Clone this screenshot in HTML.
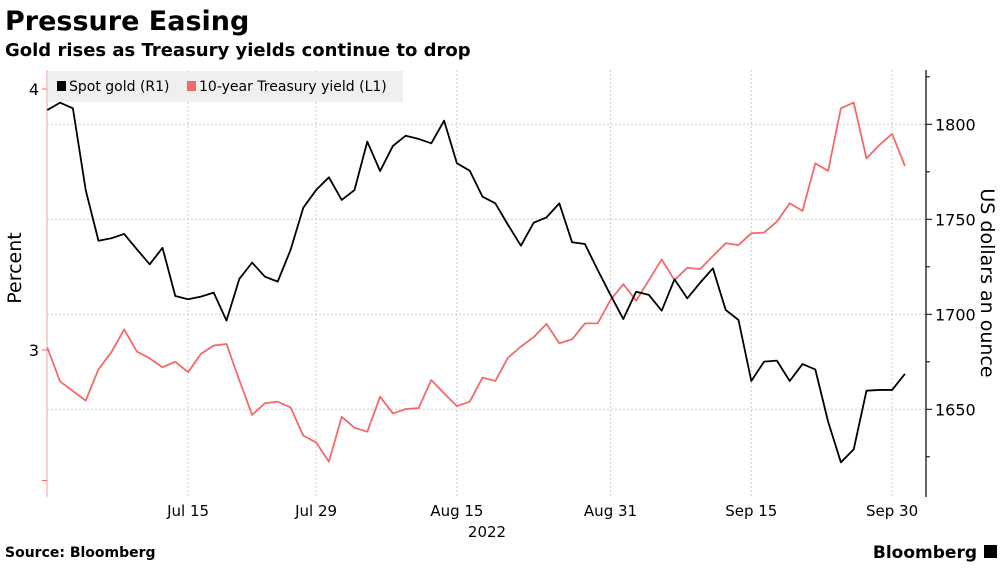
<!DOCTYPE html>
<html><head><meta charset="utf-8"><style>
body{margin:0;background:#fff;width:1003px;height:564px;overflow:hidden;font-family:"Liberation Sans",sans-serif}
</style></head><body>
<svg id="chart" width="1003" height="564" xmlns="http://www.w3.org/2000/svg" font-family="DejaVu Sans, Liberation Sans, sans-serif">
<text x="5" y="30" font-size="27" font-weight="bold" fill="#000">Pressure Easing</text>
<text x="5" y="56" font-size="18" font-weight="bold" fill="#000">Gold rises as Treasury yields continue to drop</text>
<g id="grid"></g>
<g id="axes"></g>
<g id="series"></g>
<g>
<rect x="48" y="71" width="355" height="31" fill="#efefef"/>
<rect x="57" y="81" width="9" height="10" fill="#000"/>
<text x="69" y="91" font-size="14" fill="#000">Spot gold (R1)</text>
<rect x="187" y="81" width="9" height="10" fill="#f46a6a"/>
<text x="199" y="91" font-size="14" fill="#000">10-year Treasury yield (L1)</text>
</g>
<text transform="translate(21,268) rotate(-90)" text-anchor="middle" font-size="19" fill="#000">Percent</text>
<text transform="translate(981,283) rotate(90)" text-anchor="middle" font-size="19" fill="#000">US dollars an ounce</text>
<text x="487" y="537" text-anchor="middle" font-size="15" fill="#000">2022</text>
<text x="5" y="557" font-size="14" font-weight="bold" fill="#000">Source: Bloomberg</text>
<text x="977" y="558" text-anchor="end" font-size="17" font-weight="bold" fill="#000">Bloomberg</text>
<rect x="984" y="545" width="13" height="13" fill="#000"/>
</svg>
<script>
const gold=[1807.5,1811.4,1808.4,1765.4,1738.7,1740,1742.3,1734.2,1726.3,1735,1709.6,1707.9,1709.3,1711.4,1696.7,1718.6,1727.2,1719.8,1717.2,1733.8,1756.1,1765.4,1772.1,1760.2,1765.4,1790.9,1775.4,1788.6,1794,1792.3,1790,1801.9,1779.5,1775.6,1761.9,1758.4,1747,1736.1,1748.2,1751,1758.4,1737.9,1737,1723.3,1710.2,1697.5,1711.9,1710.2,1701.9,1718.4,1708.4,1716.6,1724.2,1702.3,1697,1664.9,1675.1,1675.6,1664.9,1673.8,1671,1643.5,1622.1,1628.9,1659.8,1660.2,1660.2,1668.6];
const yieldV=[3.010,2.879,2.843,2.806,2.926,2.991,3.079,2.994,2.968,2.934,2.955,2.915,2.985,3.017,3.023,2.885,2.751,2.796,2.802,2.780,2.672,2.646,2.572,2.744,2.702,2.687,2.821,2.757,2.774,2.777,2.885,2.834,2.785,2.802,2.894,2.881,2.971,3.013,3.049,3.100,3.026,3.041,3.102,3.102,3.192,3.252,3.189,3.268,3.347,3.268,3.315,3.310,3.360,3.409,3.402,3.447,3.450,3.492,3.562,3.533,3.715,3.686,3.926,3.948,3.734,3.785,3.828,3.705];
const xTickLabels=["Jul 15","Jul 29","Aug 15","Aug 31","Sep 15","Sep 30"];
const xTickIdx=[11,21,32,44,55,66];
const leftTicks=[4,3];
const rightTicks=[1800,1750,1700,1650];
const NS="http://www.w3.org/2000/svg";
const X0=47.3,DX=12.8,TOP=70,BOT=497,LX=47,RX=926;
const x=i=>X0+i*DX;
const yL=v=>89+(4-v)*261;
const yR=v=>124.3+(1800-v)*1.9;
function mk(tag,attrs,parent,txt){const e=document.createElementNS(NS,tag);for(const k in attrs)e.setAttribute(k,attrs[k]);if(txt!==undefined)e.textContent=txt;parent.appendChild(e);return e;}
const grid=document.getElementById('grid'),axes=document.getElementById('axes'),series=document.getElementById('series');
rightTicks.forEach(v=>{const l=mk('line',{x1:LX,x2:RX,y1:yR(v),y2:yR(v),stroke:'#ccc','stroke-dasharray':'2,2'},grid);


const t=mk('line',{x1:RX,x2:RX+6,y1:yR(v),y2:yR(v),stroke:'#000'},axes);


const tx=mk('text',{x:RX+9,y:yR(v)+6,'font-size':16,fill:'#000'},axes,String(v));

});
[1825,1775,1725,1675,1625].forEach(v=>{const t=mk('line',{x1:RX,x2:RX+4,y1:yR(v),y2:yR(v),stroke:'#000'},axes);

});
xTickIdx.forEach((ix,k)=>{const l=mk('line',{x1:x(ix),x2:x(ix),y1:TOP,y2:BOT,stroke:'#ccc','stroke-dasharray':'2,2'},grid);


const tx=mk('text',{x:x(ix),y:516,'text-anchor':'middle','font-size':15,fill:'#000'},axes,xTickLabels[k]);

});
const la=mk('line',{x1:LX,x2:LX,y1:TOP,y2:BOT,stroke:'#f9a0a0','stroke-width':1},axes);


const ra=mk('line',{x1:RX,x2:RX,y1:TOP,y2:BOT,stroke:'#000','stroke-width':1.2},axes);


[4,3,2.5].forEach(v=>{const t=mk('line',{x1:LX-5,x2:LX,y1:yL(v),y2:yL(v),stroke:'#f46a6a'},axes);

});
leftTicks.forEach(v=>{const tx=mk('text',{x:LX-8,y:yL(v)+6,'text-anchor':'end','font-size':16,fill:'#000'},axes,String(v));

});
const py=mk('polyline',{points:yieldV.map((v,i)=>x(i)+','+yL(v)).join(' '),fill:'none',stroke:'#f46a6a','stroke-width':1.8,'stroke-linejoin':'round'},series);


const pg=mk('polyline',{points:gold.map((v,i)=>x(i)+','+yR(v)).join(' '),fill:'none',stroke:'#000','stroke-width':1.8,'stroke-linejoin':'round'},series);


</script>
</body></html>
